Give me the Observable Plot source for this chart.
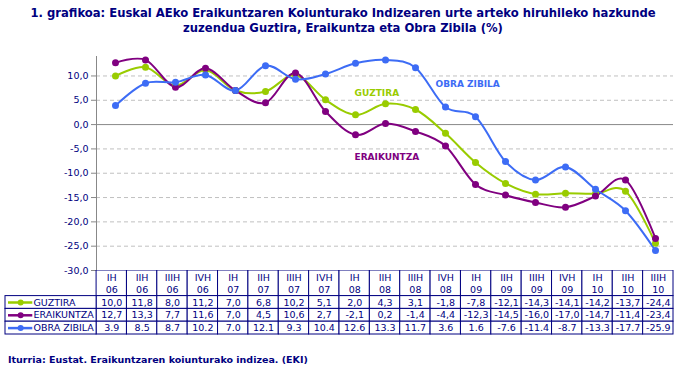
<!DOCTYPE html>
<html>
<head>
<meta charset="utf-8">
<script src="https://cdn.jsdelivr.net/npm/d3@7"></script>
<script src="https://cdn.jsdelivr.net/npm/@observablehq/plot@0.6"></script>
<style>
  html, body { margin: 0; padding: 0; background: #fff; }
  #wrap { position: relative; width: 690px; height: 380px; overflow: hidden; font-family: "DejaVu Sans", sans-serif; color: #000080; }
  #title { position: absolute; left: 0; top: 6px; width: 686px; text-align: center; font-weight: bold; font-size: 11.6px; line-height: 15px; }
  #chart { position: absolute; left: 0; top: 40px; }
  #table { position: absolute; left: 0; top: 270px; }
  #source { position: absolute; left: 8px; top: 354px; font-weight: bold; font-size: 9.5px; }
  svg { background: transparent !important; }
</style>
</head>
<body>
<div id="wrap">
  <div id="title">1. grafikoa: Euskal AEko Eraikuntzaren Koiunturako Indizearen urte arteko hiruhileko hazkunde<br>zuzendua Guztira, Eraikuntza eta Obra Zibila (%)</div>
  <div id="chart"></div>
  <div id="table"></div>
  <div id="source">Iturria: Eustat. Eraikuntzaren koiunturako indizea. (EKI)</div>
</div>
<script>
// ---- data ----
const periods = ["IH","IIH","IIIH","IVH","IH","IIH","IIIH","IVH","IH","IIH","IIIH","IVH","IH","IIH","IIIH","IVH","IH","IIH","IIIH"];
const years   = ["06","06","06","06","07","07","07","07","08","08","08","08","09","09","09","09","10","10","10"];
const seriesNames = ["GUZTIRA", "ERAIKUNTZA", "OBRA ZIBILA"];
const guztira    = [10.0, 11.8, 8.0, 11.2, 7.0, 6.8, 10.2, 5.1, 2.0, 4.3, 3.1, -1.8, -7.8, -12.1, -14.3, -14.1, -14.2, -13.7, -24.4];
const eraikuntza = [12.7, 13.3, 7.7, 11.6, 7.0, 4.5, 10.6, 2.7, -2.1, 0.2, -1.4, -4.4, -12.3, -14.5, -16.0, -17.0, -14.7, -11.4, -23.4];
const obraZibila = [3.9, 8.5, 8.7, 10.2, 7.0, 12.1, 9.3, 10.4, 12.6, 13.3, 11.7, 3.6, 1.6, -7.6, -11.4, -8.7, -13.3, -17.7, -25.9];
const decimalMarks = [",", ",", "."];   // as printed in the source table
const yTicks = [-30, -25, -20, -15, -10, -5, 0, 5, 10];

// ---- styles ----
const colors = ["#99cc00", "#800080", "#3d6cf5"];
const navy = "#000080";

const quarters = periods.map((p, i) => p + " " + years[i]);
const values = [guztira, eraikuntza, obraZibila];
const rows = seriesNames.flatMap((s, k) => quarters.map((q, i) => ({series: s, k, i, q, v: values[k][i]})));

// ---- main chart ----
const chart = Plot.plot({
  width: 690, height: 240,
  marginTop: 16, marginBottom: 10, marginLeft: 96, marginRight: 17,
  style: {fontFamily: "DejaVu Sans", fontSize: "9.5px", background: "transparent"},
  x: {type: "point", domain: quarters, padding: 0.5, axis: null},
  y: {domain: [-30, 14], axis: null},
  color: {domain: seriesNames, range: colors},
  marks: [
    Plot.ruleY(yTicks.filter(t => t !== 0 && t !== -30), {stroke: "#c0c0c0", strokeDasharray: "4,3"}),
    Plot.ruleY([0], {stroke: "#888888"}),
    Plot.frame({anchor: "left", stroke: "#888888"}),
    Plot.axisY({ticks: yTicks, label: null, tickFormat: d => d.toFixed(1).replace(".", ","), tickSize: 5, tickPadding: 3, stroke: "#888888", fill: navy}),
    Plot.line(rows, {x: "q", y: "v", z: "series", stroke: "series", strokeWidth: 2, curve: "cardinal", tension: 0}),
    Plot.dot(rows, {x: "q", y: "v", fill: "series", r: 3.5}),
    Plot.text([{t: "OBRA ZIBILA", q: quarters[11], v: 8.4}], {x: "q", y: "v", text: "t", fill: colors[2], textAnchor: "start", dx: -10, fontWeight: "bold", fontSize: 9}),
    Plot.text([{t: "GUZTIRA", q: quarters[8], v: 6.4}], {x: "q", y: "v", text: "t", fill: colors[0], textAnchor: "start", dx: -1, fontWeight: "bold", fontSize: 9}),
    Plot.text([{t: "ERAIKUNTZA", q: quarters[8], v: -6.6}], {x: "q", y: "v", text: "t", fill: colors[1], textAnchor: "start", dx: -1, fontWeight: "bold", fontSize: 9})
  ]
});
document.getElementById("chart").appendChild(chart);

// ---- data table ----
const headerCells = quarters.map((q, i) => ({i, label: periods[i] + "\n" + years[i]}));
const legendCells = seriesNames.map((s, k) => ({s, k, row: 2 + k}));
const valueCells = rows.map(d => ({...d, row: 2 + d.k, label: d.v.toFixed(1).replace(".", decimalMarks[d.k])}));

const table = Plot.plot({
  width: 690, height: 65,
  marginTop: 0, marginBottom: 1, marginLeft: 5, marginRight: 17,
  style: {fontFamily: "DejaVu Sans", fontSize: "9.5px", background: "transparent"},
  x: {domain: [-3, quarters.length], axis: null},
  y: {domain: [0, 5], reverse: true, axis: null},
  marks: [
    Plot.rect(headerCells, {x1: d => d.i, x2: d => d.i + 1, y1: 0, y2: 2, fill: "white", stroke: navy}),
    Plot.rect(valueCells, {x1: d => d.i, x2: d => d.i + 1, y1: d => d.row, y2: d => d.row + 1, fill: "white", stroke: navy}),
    Plot.rect(legendCells, {x1: -3, x2: 0, y1: d => d.row, y2: d => d.row + 1, fill: "white", stroke: navy}),
    Plot.text(headerCells, {x: d => d.i + 0.5, y: 1, text: "label", fill: navy, lineHeight: 1.25}),
    Plot.text(valueCells, {x: d => d.i + 0.5, y: d => d.row + 0.5, text: "label", fill: navy}),
    Plot.ruleY(legendCells, {y: d => d.row + 0.5, x1: -3, x2: -2.2, dx: 3, stroke: d => colors[d.k], strokeWidth: 2.5}),
    Plot.dot(legendCells, {x: -2.6, dx: 3, y: d => d.row + 0.5, fill: d => colors[d.k], r: 3}),
    Plot.text(legendCells, {x: -3, dx: 28, y: d => d.row + 0.5, text: "s", fill: navy, textAnchor: "start"})
  ]
});
document.getElementById("table").appendChild(table);
</script>
</body>
</html>
